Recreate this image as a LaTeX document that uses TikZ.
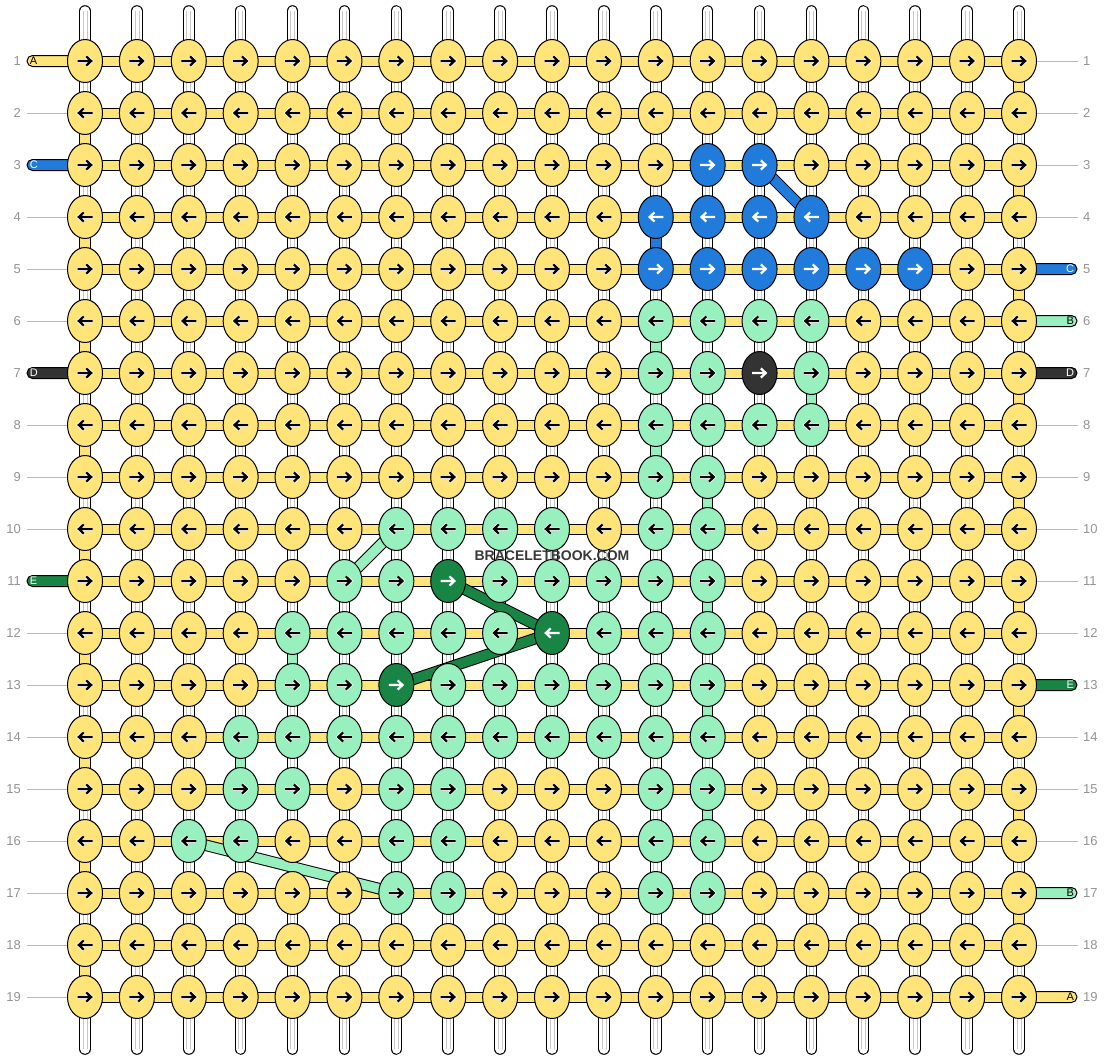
\documentclass[tikz,border=0pt]{standalone}
\usepackage{fontspec}
\setmainfont{Liberation Sans}
\usetikzlibrary{shapes.geometric,calc}
\definecolor{colY}{HTML}{FFE47A}
\definecolor{colG}{HTML}{98F0BE}
\definecolor{colB}{HTML}{217BDB}
\definecolor{colK}{HTML}{333333}
\definecolor{colD}{HTML}{188545}
\colorlet{arrY}{black}\colorlet{arrG}{black}\colorlet{arrB}{white}\colorlet{arrK}{white}\colorlet{arrD}{white}
\colorlet{haloY}{white}\colorlet{haloG}{white}\colorlet{haloB}{colB}\colorlet{haloK}{colK}\colorlet{haloD}{colD}
\colorlet{arrcol}{black}\colorlet{arrhalo}{white}
\pgfdeclarelayer{paper}\pgfdeclarelayer{rods}\pgfdeclarelayer{bands}\pgfdeclarelayer{top}
\pgfsetlayers{paper,rods,bands,main,top}
\tikzset{
  knot/.style={ellipse, draw=black, line width=1pt, minimum width=35pt, minimum height=43pt, inner sep=0pt,
    path picture={
      \begin{scope}[shift={(path picture bounding box.center)}, x=\sg pt, y=1pt]
        \draw[line width=3.6pt, draw=arrhalo, line join=miter, line cap=butt]
          (-7.5,0) -- (5.5,0) (1.3,-4.6) -- (6.2,0) -- (1.3,4.6);
        \draw[line width=2.2pt, draw=arrcol, line join=miter, line cap=butt]
          (-7.5,0) -- (5.5,0) (1.3,-4.6) -- (6.2,0) -- (1.3,4.6);
      \end{scope}}},
  hband/.style={draw=black, line width=1pt, double=colY, double distance=9pt},
  vband/.style={draw=black, line width=1pt, double=#1, double distance=9.6pt},
  rod/.style={draw=black, line width=1pt, double=white, double distance=9.6pt, line cap=round},
  rodline/.style={draw=black!22, line width=0.6pt},
  tick/.style={draw=black!28, line width=0.8pt},
  rnum/.style={inner sep=0pt, text=black!42, font=\fontsize{13}{13}\selectfont},
  lstrip/.style={draw=black, line width=1pt, rounded corners=5.5pt, minimum height=11pt, inner ysep=0pt,
    inner xsep=3pt, text width=48pt, font=\fontsize{11}{11}\selectfont},
  wmark/.style={font=\bfseries\fontsize{14}{14}\selectfont, text=black!78, inner sep=1pt}
}
\begin{document}
\begin{tikzpicture}[x=1pt, y=-1pt]
\useasboundingbox (0,0) rectangle (1104,1060);
\begin{pgfonlayer}{paper}
  \fill[white] (0,0) rectangle (1104,1060);
\end{pgfonlayer}
% knots
\foreach \rl [count=\ri] in {
 {Y,Y,Y,Y,Y,Y,Y,Y,Y,Y,Y,Y,Y,Y,Y,Y,Y,Y,Y},
 {Y,Y,Y,Y,Y,Y,Y,Y,Y,Y,Y,Y,Y,Y,Y,Y,Y,Y,Y},
 {Y,Y,Y,Y,Y,Y,Y,Y,Y,Y,Y,Y,B,B,Y,Y,Y,Y,Y},
 {Y,Y,Y,Y,Y,Y,Y,Y,Y,Y,Y,B,B,B,B,Y,Y,Y,Y},
 {Y,Y,Y,Y,Y,Y,Y,Y,Y,Y,Y,B,B,B,B,B,B,Y,Y},
 {Y,Y,Y,Y,Y,Y,Y,Y,Y,Y,Y,G,G,G,G,Y,Y,Y,Y},
 {Y,Y,Y,Y,Y,Y,Y,Y,Y,Y,Y,G,G,K,G,Y,Y,Y,Y},
 {Y,Y,Y,Y,Y,Y,Y,Y,Y,Y,Y,G,G,G,G,Y,Y,Y,Y},
 {Y,Y,Y,Y,Y,Y,Y,Y,Y,Y,Y,G,G,Y,Y,Y,Y,Y,Y},
 {Y,Y,Y,Y,Y,Y,G,G,G,G,Y,G,G,Y,Y,Y,Y,Y,Y},
 {Y,Y,Y,Y,Y,G,G,D,G,G,G,G,G,Y,Y,Y,Y,Y,Y},
 {Y,Y,Y,Y,G,G,G,G,G,D,G,G,G,Y,Y,Y,Y,Y,Y},
 {Y,Y,Y,Y,G,G,D,G,G,G,G,G,G,Y,Y,Y,Y,Y,Y},
 {Y,Y,Y,G,G,G,G,G,G,G,G,G,G,Y,Y,Y,Y,Y,Y},
 {Y,Y,Y,G,G,Y,G,G,Y,Y,Y,G,G,Y,Y,Y,Y,Y,Y},
 {Y,Y,G,G,Y,Y,G,G,Y,Y,Y,G,G,Y,Y,Y,Y,Y,Y},
 {Y,Y,Y,Y,Y,Y,G,G,Y,Y,Y,G,G,Y,Y,Y,Y,Y,Y},
 {Y,Y,Y,Y,Y,Y,Y,Y,Y,Y,Y,Y,Y,Y,Y,Y,Y,Y,Y},
 {Y,Y,Y,Y,Y,Y,Y,Y,Y,Y,Y,Y,Y,Y,Y,Y,Y,Y,Y}}{
  \pgfmathsetmacro\sg{mod(\ri,2)==1 ? 1 : -1}
  \pgfmathsetmacro\yy{61+(\ri-1)*52}
  \foreach \k [count=\ci] in \rl {
    \colorlet{arrcol}{arr\k}\colorlet{arrhalo}{halo\k}
    \pgfmathsetmacro\xx{85+(\ci-1)*51.889}
    \node[knot, fill=col\k] (n-\ri-\ci) at (\xx,\yy) {};
  }
}
% rods
\foreach \ci in {1,...,19}{
  \pgfmathsetmacro\xx{85+(\ci-1)*51.889}
  \coordinate (top-\ci) at (\xx,11);
  \coordinate (bot-\ci) at (\xx,1049);
  \begin{pgfonlayer}{rods}
    \draw[rod] (top-\ci) -- (bot-\ci);
    \draw[rodline] ([xshift=-2pt]top-\ci) -- ([xshift=-2pt]bot-\ci);
    \draw[rodline] ([xshift=2pt]top-\ci) -- ([xshift=2pt]bot-\ci);
  \end{pgfonlayer}
}
\begin{pgfonlayer}{bands}
% horizontal bands
\foreach \ri in {1,...,19}{
  \foreach \ci [evaluate=\ci as \cn using int(\ci+1)] in {1,...,18}{
    \draw[hband] (n-\ri-\ci.center) -- (n-\ri-\cn.center);
  }
}
% edge turns
\foreach \ri [evaluate=\ri as \rn using int(\ri+1)] in {2,4,...,18}{
  \draw[vband=colY] (n-\ri-1.center) -- (n-\rn-1.center);
}
\foreach \ri [evaluate=\ri as \rn using int(\ri+1)] in {1,3,...,17}{
  \draw[vband=colY] (n-\ri-19.center) -- (n-\rn-19.center);
}
% coloured vertical passes
\draw[vband=colB] (n-4-12.center) -- (n-5-12.center);
\draw[vband=colG] (n-6-12.center) -- (n-7-12.center);
\draw[vband=colG] (n-7-15.center) -- (n-8-15.center);
\draw[vband=colG] (n-8-12.center) -- (n-9-12.center);
\draw[vband=colG] (n-9-13.center) -- (n-10-13.center);
\draw[vband=colG] (n-11-13.center) -- (n-12-13.center);
\draw[vband=colG] (n-12-5.center) -- (n-13-5.center);
\draw[vband=colG] (n-13-13.center) -- (n-14-13.center);
\draw[vband=colG] (n-14-4.center) -- (n-15-4.center);
\draw[vband=colG] (n-15-13.center) -- (n-16-13.center);
% diagonal passes
\draw[vband=colB] (n-3-14.center) -- (n-4-15.center);
\draw[vband=colG] (n-10-7.center) -- (n-11-6.center);
\draw[vband=colD] (n-11-8.center) -- (n-12-10.center);
\draw[vband=colD] (n-12-10.center) -- (n-13-7.center);
\draw[vband=colG] (n-16-3.center) -- (n-17-7.center);
% thread end strips
\node[lstrip, fill=colY, text=black, align=left] (ls-1) at (54,61) {A};
\node[lstrip, fill=colB, text=white, align=left] (ls-3) at (54,165) {C};
\node[lstrip, fill=colK, text=white, align=left] (ls-7) at (54,373) {D};
\node[lstrip, fill=colD, text=white, align=left] (ls-11) at (54,581) {E};
\node[lstrip, fill=colB, text=white, align=right] (rs-5) at (1050,269) {C};
\node[lstrip, fill=colG, text=black, align=right] (rs-6) at (1050,321) {B};
\node[lstrip, fill=colK, text=white, align=right] (rs-7) at (1050,373) {D};
\node[lstrip, fill=colD, text=white, align=right] (rs-13) at (1050,685) {E};
\node[lstrip, fill=colG, text=black, align=right] (rs-17) at (1050,893) {B};
\node[lstrip, fill=colY, text=black, align=right] (rs-19) at (1050,997) {A};
\end{pgfonlayer}
% row numbers and ticks
\foreach \ri in {1,...,19}{
  \pgfmathsetmacro\yy{61+(\ri-1)*52}
  \node[rnum, anchor=east] (ln-\ri) at (21,\yy) {\ri};
  \node[rnum, anchor=west] (rn-\ri) at (1083,\yy) {\ri};
  \coordinate (lt-\ri) at (27,\yy);
  \coordinate (rt-\ri) at (1078,\yy);
}
\begin{pgfonlayer}{bands}
\foreach \ri in {2,4,5,6,8,9,10,12,13,14,15,16,17,18,19}{
  \draw[tick] (lt-\ri) -- (n-\ri-1);
}
\foreach \ri in {1,2,3,4,8,9,10,11,12,14,15,16,18}{
  \draw[tick] (n-\ri-19) -- (rt-\ri);
}
\end{pgfonlayer}
\begin{pgfonlayer}{top}
\node[wmark] (wm) at (552,556) {BRACELETBOOK.COM};
\end{pgfonlayer}
\end{tikzpicture}
\end{document}
